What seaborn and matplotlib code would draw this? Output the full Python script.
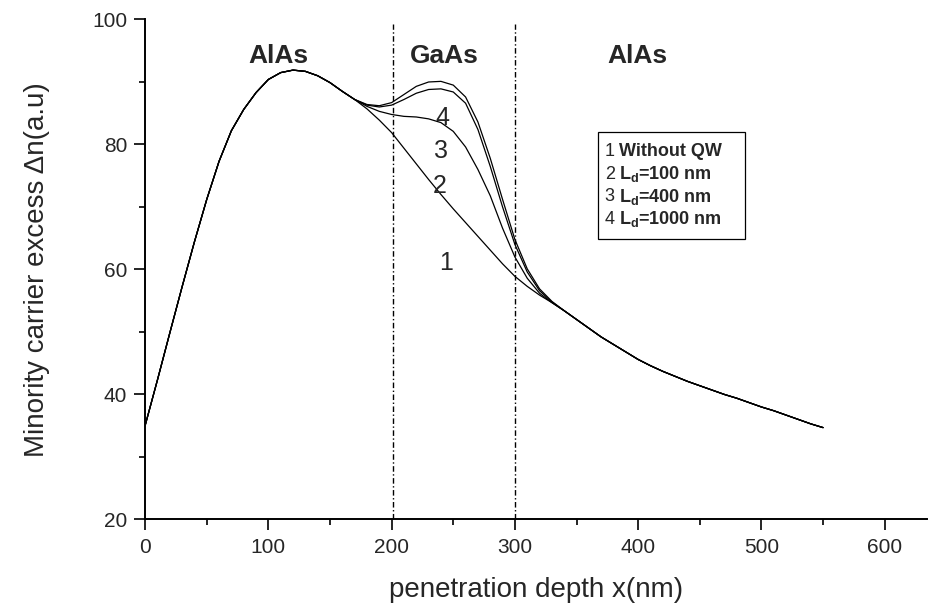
import numpy as np
import pandas as pd
import seaborn as sns
import matplotlib.pyplot as plt
from matplotlib.patches import Rectangle
from matplotlib.ticker import MultipleLocator


# shared part of the profile, before the well (nm, a.u.)
x_rise = [0, 10, 20, 30, 40, 50, 60, 70, 80, 90, 100, 110, 120,
          130, 140, 150, 160, 170]
y_rise = [35.0, 42.3, 49.8, 57.2, 64.4, 71.2, 77.3, 82.2, 85.6, 88.3,
          90.4, 91.5, 91.9, 91.7, 91.0, 89.9, 88.5, 87.2]

# region where the four curves differ
x_well = [180, 190, 200, 210, 220, 230, 240, 250, 260, 270, 280, 290,
          300, 310, 320, 330]
y_noqw = [85.7, 83.9, 81.9, 79.4, 76.9, 74.4, 72.0, 69.7, 67.5, 65.3,
          63.1, 60.9, 58.9, 57.3, 55.9, 54.7]
y_ld100 = [86.1, 85.3, 84.8, 84.5, 84.4, 84.1, 83.5, 82.1, 79.6, 76.0,
           71.8, 66.6, 62.0, 58.6, 56.2, 54.7]
y_ld400 = [86.3, 86.0, 86.3, 87.2, 88.2, 88.8, 88.9, 88.4, 86.6, 82.4,
           76.5, 70.0, 64.0, 59.6, 56.6, 54.8]
y_ld1000 = [86.4, 86.2, 86.7, 88.0, 89.3, 90.0, 90.1, 89.5, 87.6, 83.6,
            77.8, 71.2, 64.8, 60.1, 56.9, 54.9]

# shared tail after the well
x_tail = [340, 350, 360, 370, 380, 390, 400, 410, 420, 430, 440, 450,
          460, 470, 480, 490, 500, 510, 520, 530, 540, 550]
y_tail = [53.4, 52.0, 50.6, 49.2, 48.0, 46.8, 45.6, 44.6, 43.7, 42.9,
          42.1, 41.4, 40.7, 40.0, 39.4, 38.7, 38.0, 37.4, 36.7, 36.0,
          35.3, 34.7]

curve_ids = ['1', '2', '3', '4']
curve_names = ['Without QW', r'$\mathbf{L_d}$=100 nm',
               r'$\mathbf{L_d}$=400 nm', r'$\mathbf{L_d}$=1000 nm']
well_values = [y_noqw, y_ld100, y_ld400, y_ld1000]

interfaces = [201, 300]
layers = ['AlAs', 'GaAs', 'AlAs']
layer_centers = [108, 243, 399]

# curve number annotations (x, y)
number_pos = [(244, 61.0), (239, 73.3), (240, 79.0), (241, 84.2)]


def main():
    sns.set_theme(style='ticks')
    plt.rcParams['font.family'] = ['Liberation Sans', 'DejaVu Sans']
    plt.rcParams['mathtext.fontset'] = 'custom'
    plt.rcParams['mathtext.rm'] = 'Liberation Sans'
    plt.rcParams['mathtext.bf'] = 'Liberation Sans:bold'

    rows = []
    for cid, yw in zip(curve_ids, well_values):
        xs = x_rise + x_well + x_tail
        ys = y_rise + yw + y_tail
        for xv, yv in zip(xs, ys):
            rows.append({'x': xv, 'dn': yv, 'curve': cid})
    df = pd.DataFrame(rows)

    fig = plt.figure(figsize=(9.36, 6.09), dpi=100)
    ax = fig.add_axes([0.155, 0.147, 0.835, 0.821])

    sns.lineplot(data=df, x='x', y='dn', units='curve', estimator=None,
                 color='black', lw=0.9, sort=False, ax=ax)

    for xi in interfaces:
        ax.axvline(xi, ymax=0.99, color='black', lw=1.0,
                   ls=(0, (4, 1.8, 1, 1.8)))

    for name, xc in zip(layers, layer_centers):
        ax.text(xc, 94.2, name, ha='center', va='center', fontsize=19,
                fontweight='bold')

    for cid, (xn, yn) in zip(curve_ids, number_pos):
        ax.text(xn, yn, cid, ha='center', va='center', fontsize=18)

    # legend box
    ax.add_patch(Rectangle((0.579, 0.56), 0.188, 0.215,
                           transform=ax.transAxes, fill=False,
                           edgecolor='black', lw=0.9))
    for i, (cid, name) in enumerate(zip(curve_ids, curve_names)):
        yy = 0.735 - i * 0.045
        ax.text(0.588, yy, cid, transform=ax.transAxes, fontsize=13,
                va='center')
        ax.text(0.606, yy, name, transform=ax.transAxes, fontsize=13,
                fontweight='bold', va='center')

    ax.set_xlim(0, 634)
    ax.set_ylim(20, 100)
    ax.xaxis.set_major_locator(MultipleLocator(100))
    ax.xaxis.set_minor_locator(MultipleLocator(50))
    ax.yaxis.set_major_locator(MultipleLocator(20))
    ax.yaxis.set_minor_locator(MultipleLocator(10))
    ax.tick_params(which='major', direction='out', length=8, width=1.2,
                   labelsize=15, color='black', pad=5)
    ax.tick_params(which='minor', direction='out', length=4.5, width=1.2,
                   color='black')
    for side in ['left', 'bottom']:
        ax.spines[side].set_linewidth(1.4)
        ax.spines[side].set_color('black')
    sns.despine(ax=ax)

    ax.set_xlabel('penetration depth x(nm)', fontsize=20, labelpad=15)
    ax.set_ylabel('Minority carrier excess \u0394n(a.u)', fontsize=20,
                  labelpad=30)

    fig.savefig('out.png', dpi=100)
    plt.close(fig)


if __name__ == '__main__':
    main()
